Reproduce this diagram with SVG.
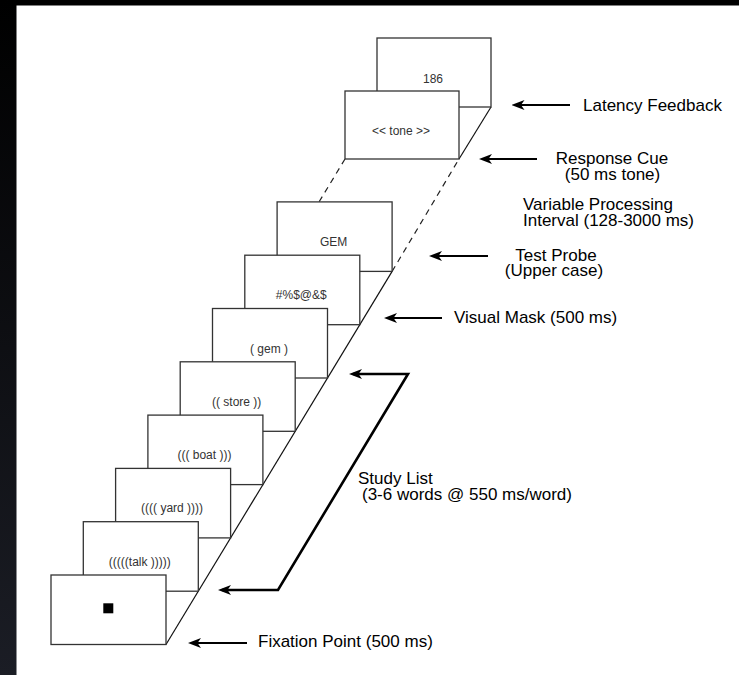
<svg xmlns="http://www.w3.org/2000/svg" width="739" height="675" viewBox="0 0 739 675">
<defs>
<linearGradient id="frame" x1="0" y1="0" x2="0" y2="1">
<stop offset="0" stop-color="#000"/>
<stop offset="1" stop-color="#1b1d25"/>
</linearGradient>
<marker id="ah" viewBox="0 0 13 10" refX="9" refY="5" markerWidth="13" markerHeight="10" markerUnits="userSpaceOnUse" orient="auto-start-reverse">
<path d="M0,0 L13,5 L0,10 L3.5,5 Z" fill="#000"/>
</marker>
<style>
.card{fill:#fff;stroke:#333;stroke-width:1.3}
.ct{font-family:"Liberation Sans",Arial,Helvetica,sans-serif;font-size:12px;fill:#333;text-anchor:middle}
.lb{font-family:"Liberation Sans",Arial,Helvetica,sans-serif;font-size:17px;fill:#000}
.mid{text-anchor:middle}
.ar{fill:none;stroke:#000;stroke-width:2;marker-start:url(#ah)}
.thin{fill:none;stroke:#111;stroke-width:1.2}
.dash{fill:none;stroke:#222;stroke-width:1.2;stroke-dasharray:6 5}
</style>
</defs>
<rect x="0" y="0" width="739" height="675" fill="#fff"/>
<rect x="0" y="0" width="739" height="5.5" fill="#000"/>
<rect x="0" y="0" width="16.5" height="675" fill="url(#frame)"/>

<g id="connectors">
<line class="dash" x1="392.1" y1="271.4" x2="459" y2="159"/>
<line class="dash" x1="345" y1="159" x2="319" y2="202"/>
<line class="thin" x1="166" y1="644.5" x2="392.1" y2="271.4"/>
<line class="thin" x1="459" y1="159" x2="491" y2="107"/>
<line class="ar" x1="515.5" y1="105" x2="570" y2="105"/>
<line class="ar" x1="483" y1="159" x2="537" y2="159"/>
<line class="ar" x1="433" y1="256" x2="488" y2="256"/>
<line class="ar" x1="388" y1="318" x2="442" y2="318"/>
<line class="ar" x1="192" y1="643" x2="247" y2="643"/>
<polyline points="353,374 408,374 278,590 222,590" fill="none" stroke="#000" stroke-width="2.6" stroke-linejoin="miter" marker-start="url(#ah)" marker-end="url(#ah)"/>
</g>

<g id="card-latency">
<rect class="card" x="377" y="38" width="114" height="69"/>
<text class="ct" x="433" y="83">186</text>
</g>
<g id="card-tone">
<rect class="card" x="345" y="91" width="114" height="68"/>
<text class="ct" x="401" y="135">&lt;&lt; tone &gt;&gt;</text>
</g>
<g id="card-probe">
<rect class="card" x="277.1" y="201.9" width="115" height="69.5"/>
<text class="ct" x="333.6" y="245.9">GEM</text>
</g>
<g id="card-mask">
<rect class="card" x="244.8" y="255.2" width="115" height="69.5"/>
<text class="ct" x="301.3" y="299.2">#%$@&amp;$</text>
</g>
<g id="card-gem">
<rect class="card" x="212.5" y="308.5" width="115" height="69.5"/>
<text class="ct" x="269" y="352.5">( gem )</text>
</g>
<g id="card-store">
<rect class="card" x="180.2" y="361.8" width="115" height="69.5"/>
<text class="ct" x="236.7" y="405.8">(( store ))</text>
</g>
<g id="card-boat">
<rect class="card" x="147.9" y="415.1" width="115" height="69.5"/>
<text class="ct" x="204.4" y="459.1">((( boat )))</text>
</g>
<g id="card-yard">
<rect class="card" x="115.6" y="468.4" width="115" height="69.5"/>
<text class="ct" x="172.1" y="512.4">(((( yard ))))</text>
</g>
<g id="card-talk">
<rect class="card" x="83.3" y="521.7" width="115" height="69.5"/>
<text class="ct" x="139.8" y="565.7">(((((talk )))))</text>
</g>
<g id="card-fixation">
<rect class="card" x="51" y="575" width="115" height="69.5"/>
<rect x="103.3" y="603.3" width="10" height="10" fill="#000"/>
</g>

<g id="labels">
<text class="lb" x="583" y="110.5">Latency Feedback</text>
<text class="lb mid" x="612" y="164">Response Cue</text>
<text class="lb mid" x="612.5" y="179.5">(50 ms tone)</text>
<text class="lb" x="523" y="209.5">Variable Processing</text>
<text class="lb" x="523" y="225.5">Interval (128-3000 ms)</text>
<text class="lb mid" x="556" y="260.5">Test Probe</text>
<text class="lb mid" x="554" y="276">(Upper case)</text>
<text class="lb" x="454" y="322.5">Visual Mask (500 ms)</text>
<text class="lb" x="358" y="484">Study List</text>
<text class="lb" x="362" y="499.5">(3-6 words @ 550 ms/word)</text>
<text class="lb" x="258" y="647">Fixation Point (500 ms)</text>
</g>
</svg>
